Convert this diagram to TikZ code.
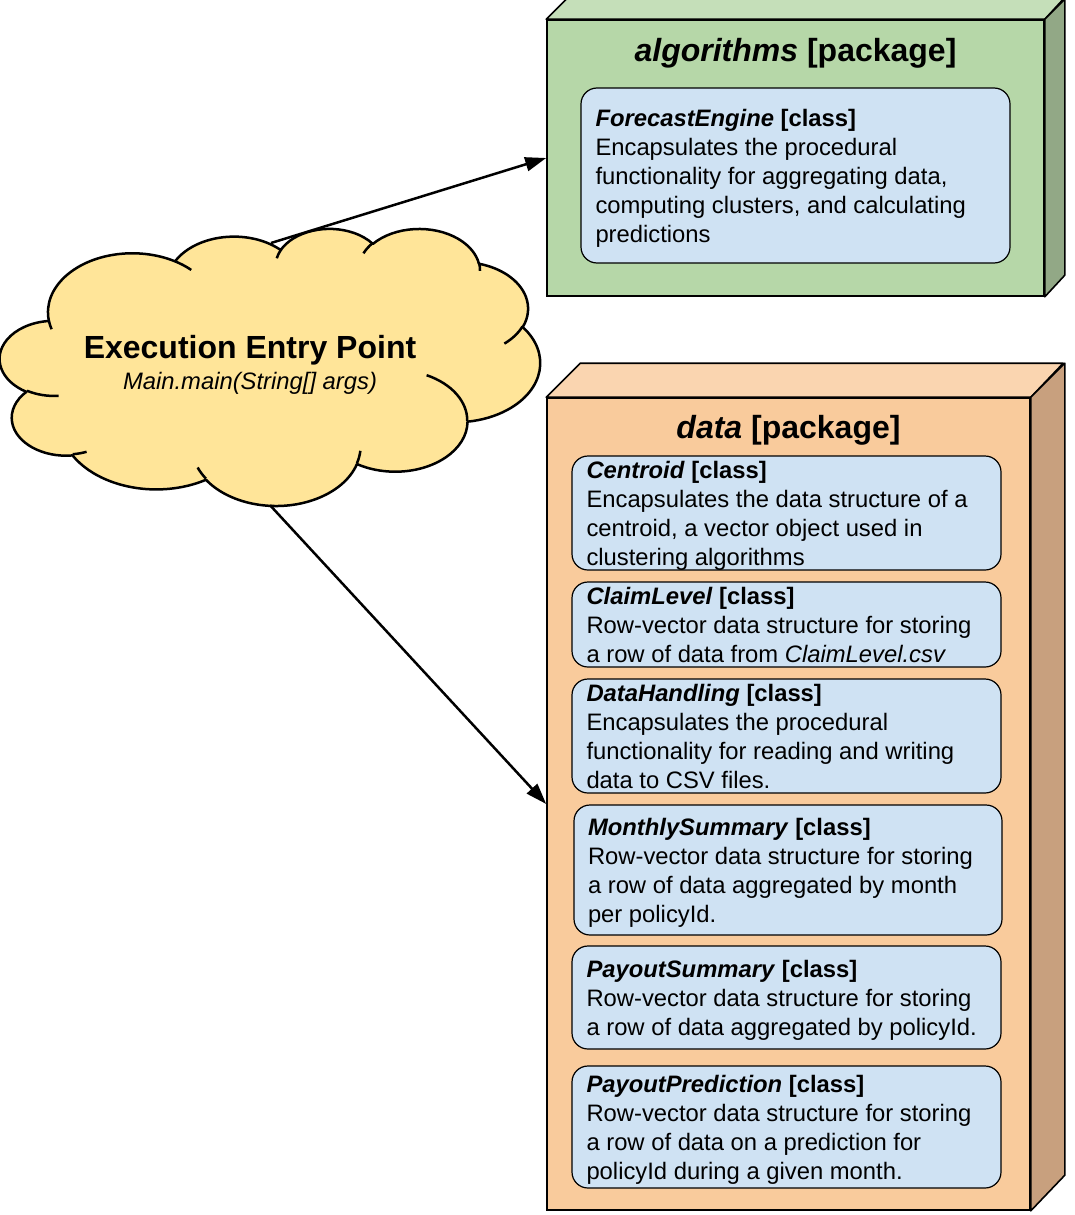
\documentclass[tikz,border=0pt]{standalone}
\usepackage{fontspec}
\setmainfont{Liberation Sans}
\usetikzlibrary{arrows.meta}
\definecolor{cloudfill}{HTML}{FFE599}
\definecolor{algfront}{HTML}{B6D7A8}
\definecolor{algtop}{HTML}{C5DFB9}
\definecolor{algside}{HTML}{92A886}
\definecolor{datafront}{HTML}{F9CB9C}
\definecolor{datatop}{HTML}{FAD5B0}
\definecolor{dataside}{HTML}{C8A07E}
\definecolor{classfill}{HTML}{CFE2F3}
% elliptical arc in the OOXML style: visual start angle and sweep
\newcommand\cldarc[4]{%
  \pgfmathsetmacro\cldtA{atan2((#1)*sin(#3),(#2)*cos(#3))}%
  \pgfmathsetmacro\cldtB{atan2((#1)*sin((#3)+(#4)),(#2)*cos((#3)+(#4)))}%
  \pgfmathsetmacro\cldtB{(\cldtB<\cldtA)?(\cldtB+360):(\cldtB)}%
  \xdef\cldpath{\cldpath arc[start angle=\cldtA,end angle=\cldtB,x radius=#1,y radius=#2]}%
}
\newcommand\cldinner[6]{%
  \pgfmathsetmacro\cldtA{atan2((#3)*sin(#5),(#4)*cos(#5))}%
  \pgfmathsetmacro\cldtB{atan2((#3)*sin((#5)+(#6)),(#4)*cos((#5)+(#6)))}%
  \pgfmathsetmacro\cldtB{(\cldtB<\cldtA)?(\cldtB+360):(\cldtB)}%
  \draw[cloudline] (#1,#2) arc[start angle=\cldtA,end angle=\cldtB,x radius=#3,y radius=#4];%
}
% class text: left aligned block, optionally lowered inside its box
\newcommand\clstext[2][-3pt]{%
  \raisebox{#1}[\height][\depth]{\parbox{400pt}{\raggedright\hyphenpenalty=10000
    \fontsize{23.8}{29}\selectfont #2}}}
\begin{document}
\begin{tikzpicture}[x=1pt,y=-1pt,
  classbox/.style={draw=black, line width=1.2pt, fill=classfill, rounded corners=16pt,
    inner xsep=14pt, inner ysep=0pt, minimum width=429pt},
  pkgfront/.style={draw=black, line width=1.6pt, inner sep=0pt},
  pkgface/.style={draw=black, line width=1.6pt, line join=round},
  pkgtitle/.style={font=\fontsize{32}{38}\selectfont\bfseries, anchor=base, inner sep=0pt},
  cloudline/.style={draw=black, line width=2.5pt, line cap=butt},
  conn/.style={draw=black, line width=2.5pt, -{Triangle[length=21pt,width=14pt]}},
]
\useasboundingbox (0,0) rectangle (1075,1215);

% ---------- cloud ----------
\begin{scope}[shift={(0,228)}, x=1.25pt, y=-0.6412pt]
  \gdef\cldpath{}
  \cldarc{67.53}{91.90}{-190.4875}{123.7805}
  \cldarc{53.33}{72.67}{-144.1024}{89.9452}
  \cldarc{43.65}{59.45}{-145.8079}{99.7230}
  \cldarc{48.57}{65.95}{-130.9861}{117.2417}
  \cldarc{53.33}{72.73}{-78.7089}{109.0269}
  \cldarc{67.75}{92.20}{-46.2673}{130.2690}
  \cldarc{57.85}{78.67}{0.6250}{114.0333}
  \cldarc{67.52}{92.15}{22.4516}{115.1726}
  \cldarc{77.20}{105.43}{66.2426}{75.7110}
  \cldarc{43.60}{59.18}{-274.9421}{146.7356}
  \cldarc{43.45}{59.45}{-246.8285}{152.5189}
  \edef\cldcmd{\noexpand\path[cloudline, fill=cloudfill, line join=round] (39.00,143.70) \cldpath -- cycle;}
  \cldcmd
  \cldinner{46.93}{261.77}{43.45}{59.45}{86.7420}{26.4295}
  \cldinner{69.28}{348.99}{43.60}{59.18}{73.6105}{11.4475}
  \cldinner{164.78}{390.90}{67.52}{92.15}{137.6242}{14.0811}
  \cldinner{288.27}{347.51}{67.52}{92.15}{6.4533}{15.9984}
  \cldinner{341.29}{229.54}{57.85}{78.67}{-70.2924}{70.9174}
  \cldinner{417.98}{153.54}{53.33}{72.73}{30.3180}{27.7515}
  \cldinner{383.24}{54.26}{48.57}{65.95}{-13.7443}{14.8589}
  \cldinner{290.78}{39.52}{48.57}{65.95}{-149.1815}{18.1954}
  \cldinner{221.41}{47.20}{43.65}{59.45}{-163.4943}{17.6864}
  \cldinner{140.00}{51.92}{67.53}{91.90}{-66.7070}{12.3194}
  \cldinner{41.27}{157.89}{67.53}{91.90}{157.6544}{11.8582}
\end{scope}
\node[minimum width=540pt, minimum height=277pt, inner sep=0pt] (entry) at (270,366.5) {};
\coordinate (cloudtop) at (271,243);
\node[font=\fontsize{32}{38}\selectfont\bfseries, anchor=base, inner sep=0pt] (entrytitle) at (250,358) {Execution Entry Point};
\node[font=\fontsize{23.8}{29}\selectfont\itshape, anchor=base, inner sep=0pt] (entrysub) at (250,389) {Main.main(String[] args)};

% ---------- algorithms package ----------
\node[pkgfront, fill=algfront, minimum width=497pt, minimum height=276pt] (alg) at (795.5,158) {};
\path[pkgface, fill=algtop] (alg.north west) -- ++(20,-20) -- ++(497,0) -- (alg.north east) -- cycle;
\path[pkgface, fill=algside] (alg.north east) -- ++(20,-20) -- ++(0,276) -- (alg.south east) -- cycle;
\node[pkgtitle] (algtitle) at (795.5,62) {\textit{algorithms} [package]};
\node[classbox, minimum height=175pt] (forecast) at (795.5,175.5)
  {\clstext{\textbf{\textit{ForecastEngine} [class]}\\
   Encapsulates the procedural\\
   functionality for aggregating data,\\
   computing clusters, and calculating\\
   predictions}};

% ---------- data package ----------
\node[pkgfront, fill=datafront, minimum width=483pt, minimum height=812pt] (data) at (788.5,804) {};
\path[pkgface, fill=datatop] (data.north west) -- ++(34,-34) -- ++(483,0) -- (data.north east) -- cycle;
\path[pkgface, fill=dataside] (data.north east) -- ++(34,-34) -- ++(0,812) -- (data.south east) -- cycle;
\node[pkgtitle] (datatitle) at (788.5,438) {\textit{data} [package]};

\node[classbox, minimum height=114pt] (centroid) at (786.5,513)
  {\clstext{\textbf{\textit{Centroid} [class]}\\
   Encapsulates the data structure of a\\
   centroid, a vector object used in\\
   clustering algorithms}};
\node[classbox, minimum height=85pt] (claimlevel) at (786.5,624.5)
  {\clstext[0pt]{\textbf{\textit{ClaimLevel} [class]}\\
   Row-vector data structure for storing\\
   a row of data from \textit{ClaimLevel.csv}}};
\node[classbox, minimum height=114pt] (datahandling) at (786.5,736)
  {\clstext[0pt]{\textbf{\textit{DataHandling} [class]}\\
   Encapsulates the procedural\\
   functionality for reading and writing\\
   data to CSV files.}};
\node[classbox, minimum height=130pt, minimum width=428pt] (monthly) at (788,870)
  {\clstext{\textbf{\textit{MonthlySummary} [class]}\\
   Row-vector data structure for storing\\
   a row of data aggregated by month\\
   per policyId.}};
\node[classbox, minimum height=103pt] (payoutsum) at (786.5,997.5)
  {\clstext{\textbf{\textit{PayoutSummary} [class]}\\
   Row-vector data structure for storing\\
   a row of data aggregated by policyId.}};
\node[classbox, minimum height=122pt] (payoutpred) at (786.5,1127)
  {\clstext{\textbf{\textit{PayoutPrediction} [class]}\\
   Row-vector data structure for storing\\
   a row of data on a prediction for\\
   policyId during a given month.}};

% ---------- connectors ----------
\draw[conn] (cloudtop) -- (alg.west);
\draw[conn] (entry.south) -- (data.west);
\end{tikzpicture}
\end{document}
